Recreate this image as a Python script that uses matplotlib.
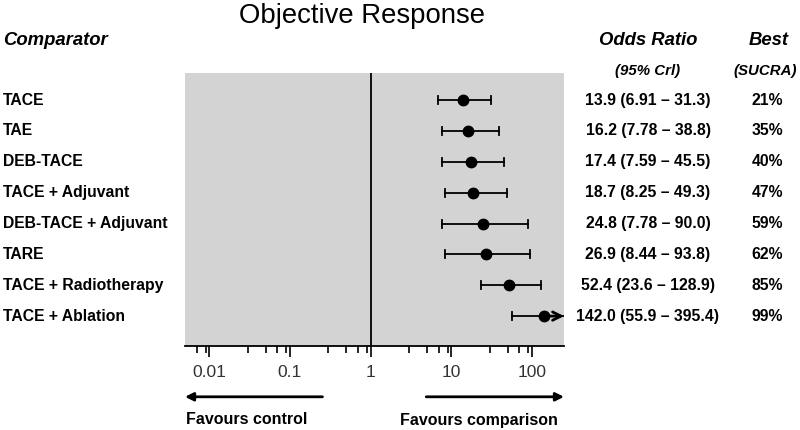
import numpy as np
import matplotlib
matplotlib.use("Agg")
from matplotlib import pyplot as plt
from matplotlib import transforms

plt.rcParams['font.family'] = ['Liberation Sans', 'DejaVu Sans']

comparators = ["TACE", "TAE", "DEB-TACE", "TACE + Adjuvant",
               "DEB-TACE + Adjuvant", "TARE", "TACE + Radiotherapy",
               "TACE + Ablation"]
odds = [13.9, 16.2, 17.4, 18.7, 24.8, 26.9, 52.4, 142.0]
lower = [6.91, 7.78, 7.59, 8.25, 7.78, 8.44, 23.6, 55.9]
upper = [31.3, 38.8, 45.5, 49.3, 90.0, 93.8, 128.9, 395.4]
sucra = [21, 35, 40, 47, 59, 62, 85, 99]

xmin, xmax = 0.005, 250
rows = np.arange(1, len(comparators) + 1)

fig = plt.figure(figsize=(8, 4.3), dpi=100)
ax = fig.add_axes([0.23125, 0.1953, 0.47375, 0.635])
ax.set_facecolor("#d3d3d3")
ax.set_xscale("log")
ax.set_xlim(xmin, xmax)
ax.set_ylim(8.97, 0.12)

ax.axvline(1, color="black", lw=1.3)

for i in range(len(comparators)):
    y = rows[i]
    hi = min(upper[i], xmax)
    ax.plot([lower[i], hi], [y, y], color="black", lw=1.3)
    ax.plot([lower[i], lower[i]], [y - 0.13, y + 0.13], color="black", lw=1.3)
    if upper[i] <= xmax:
        ax.plot([upper[i], upper[i]], [y - 0.13, y + 0.13], color="black", lw=1.3)
    else:
        ax.annotate("", xy=(xmax, y), xytext=(odds[i], y),
                    arrowprops=dict(arrowstyle="->", lw=2, color="black",
                                    mutation_scale=15, shrinkA=0, shrinkB=0))
    ax.plot(odds[i], y, "o", color="black", markersize=7.5, zorder=5)

for s in ["top", "left", "right"]:
    ax.spines[s].set_visible(False)
ax.spines["bottom"].set_linewidth(1.3)
ax.set_yticks([])
ax.set_xticks([0.01, 0.1, 1, 10, 100])
ax.set_xticklabels(["0.01", "0.1", "1", "10", "100"])
minor = []
for d in [0.001, 0.01, 0.1, 1, 10, 100]:
    for m in [3, 5, 7, 9]:
        v = d * m
        if xmin < v < xmax:
            minor.append(v)
ax.set_xticks(minor, minor=True)
ax.set_xticklabels([], minor=True)
ax.tick_params(axis="x", which="major", length=8, width=1.2, labelsize=12.5,
               labelcolor="#333333", pad=6)
ax.tick_params(axis="x", which="minor", length=5, width=1.2)

# row labels and values
tr = transforms.blended_transform_factory(fig.transFigure, ax.transData)
for i in range(len(comparators)):
    y = rows[i]
    ax.text(0.004, y, comparators[i], transform=tr, ha="left", va="center",
            fontsize=11.3, fontweight="bold")
    ax.text(0.81, y, "%.1f (%s \u2013 %s)" % (odds[i], lower[i], upper[i]),
            transform=tr, ha="center", va="center", fontsize=11.3,
            fontweight="bold")
    ax.text(0.959, y, "%d%%" % sucra[i], transform=tr, ha="center",
            va="center", fontsize=11.3, fontweight="bold")

# headers
fig.text(0.453, 0.962, "Objective Response", ha="center", va="center",
         fontsize=19.8)
fig.text(0.004, 0.905, "Comparator", ha="left", va="center", fontsize=13.3,
         fontweight="bold", style="italic")
fig.text(0.81, 0.905, "Odds Ratio", ha="center", va="center", fontsize=13.3,
         fontweight="bold", style="italic")
fig.text(0.961, 0.905, "Best", ha="center", va="center", fontsize=13.3,
         fontweight="bold", style="italic")
fig.text(0.81, 0.835, "(95% Crl)", ha="center", va="center", fontsize=10.8,
         fontweight="bold", style="italic")
fig.text(0.956, 0.835, "(SUCRA)", ha="center", va="center", fontsize=10.8,
         fontweight="bold", style="italic")

# favours arrows
xt = ax.get_xaxis_transform()
ax.annotate("", xy=(xmin, -0.186), xytext=(0.253, -0.186), xycoords=xt,
            textcoords=xt, annotation_clip=False,
            arrowprops=dict(arrowstyle="-|>", lw=2, color="black",
                            mutation_scale=12, shrinkA=0, shrinkB=0))
ax.annotate("", xy=(xmax, -0.186), xytext=(4.9, -0.186), xycoords=xt,
            textcoords=xt, annotation_clip=False,
            arrowprops=dict(arrowstyle="-|>", lw=2, color="black",
                            mutation_scale=12, shrinkA=0, shrinkB=0))
fig.text(186 / 800, 1 - 420 / 430, "Favours control", ha="left", va="center",
         fontsize=11.5, fontweight="bold")
fig.text(558 / 800, 1 - 420 / 430, "Favours comparison", ha="right",
         va="center", fontsize=11.5, fontweight="bold")

plt.savefig("out.png", dpi=100)
